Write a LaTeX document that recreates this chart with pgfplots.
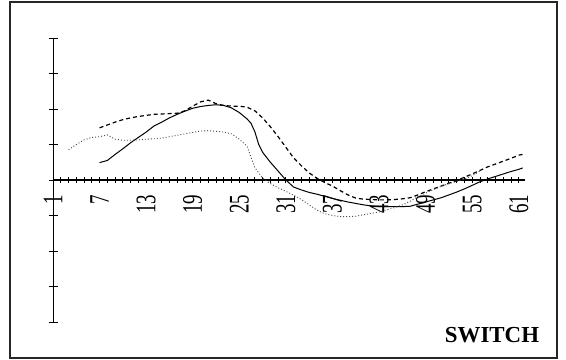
\documentclass[border=0pt]{standalone}
\usepackage{fontspec}
\setmainfont{Liberation Serif}
\usepackage{pgfplots}
\pgfplotsset{compat=1.18}
\begin{document}
\begin{tikzpicture}
\path (0,0) rectangle (566bp,360bp);
\draw[line width=1.6bp, black!85] (10bp,2bp) rectangle (557bp,358bp);
\begin{axis}[
 at={(53bp,38bp)}, anchor=south west,
 scale only axis, width=472bp, height=284bp,
 xmin=1, xmax=61.8, ymin=-4, ymax=4,
 axis x line=middle, axis y line=left,
 hide obscured x ticks=false,
 x axis line style={-, line width=1.4bp},
 y axis line style={-, line width=0.9bp},
 xtick={1,7,...,61}, minor xtick={1,2,...,61},
 major x tick style={draw=none},
 ytick={-4,-3,...,4}, yticklabels={},
 tick align=center, major tick length=9bp, minor tick length=6bp,
 every tick/.style={black, line width=0.9bp},
 xticklabel style={rotate=90, yscale=1.5, anchor=east, font=\fontsize{19}{19}\selectfont, xshift=-7bp},
 /pgf/number format/assume math mode=true,
 clip=false,
]
\addplot[black, line width=1bp] coordinates {
(7,0.49)(8,0.55)(9,0.72)(10,0.88)(11,1.05)(12,1.2)(13,1.35)(14,1.52)(15,1.63)(16,1.75)(17,1.85)(18,1.94)(19,2.02)(20,2.07)(21,2.1)(22,2.12)(23,2.1)(24,2.03)(25,1.9)(26,1.72)(26.5,1.6)(27,1.36)(27.5,1.0)(28,0.78)(29,0.5)(30,0.25)(31,0.0)(32,-0.2)(33,-0.28)(34,-0.35)(35,-0.4)(36,-0.46)(37,-0.52)(38,-0.57)(39,-0.62)(40,-0.66)(41,-0.7)(42,-0.73)(43,-0.75)(46,-0.75)(47,-0.74)(48,-0.68)(49,-0.62)(50,-0.56)(51,-0.5)(52,-0.42)(53,-0.34)(54,-0.25)(55,-0.15)(56,-0.05)(57,0.03)(58,0.1)(59,0.17)(60,0.24)(61,0.3)(61.5,0.34)
};
\addplot[black, line width=1.2bp, dash pattern=on 4bp off 3bp] coordinates {
(7,1.47)(8,1.55)(9,1.63)(10,1.7)(11,1.75)(12,1.79)(13,1.82)(14,1.85)(15,1.86)(16,1.87)(17,1.88)(18,1.95)(19,2.08)(20,2.2)(21,2.25)(22,2.15)(23,2.1)(24,2.08)(25,2.08)(26,2.05)(27,1.95)(28,1.75)(29,1.5)(30,1.22)(31,0.92)(32,0.62)(33,0.4)(34,0.2)(35,0.05)(36,-0.07)(37,-0.17)(38,-0.3)(39,-0.42)(40,-0.51)(41,-0.54)(42,-0.55)(43,-0.56)(44,-0.56)(45,-0.55)(46,-0.53)(47,-0.5)(48,-0.42)(49,-0.33)(50,-0.25)(51,-0.17)(52,-0.09)(53,-0.02)(54,0.08)(55,0.17)(56,0.27)(57,0.37)(58,0.45)(59,0.53)(60,0.61)(61,0.7)(61.5,0.72)
};
\addplot[black!70, line width=0.9bp, dash pattern=on 1bp off 2bp] coordinates {
(3,0.85)(4,1.0)(5,1.13)(6,1.2)(7,1.22)(8,1.27)(9,1.15)(10,1.12)(11,1.12)(12,1.13)(13,1.15)(14,1.16)(15,1.18)(16,1.22)(17,1.26)(18,1.3)(19,1.34)(20,1.38)(21,1.39)(22,1.37)(23,1.35)(24,1.3)(25,1.15)(26,0.95)(27,0.35)(28,0.05)(29,-0.1)(30,-0.22)(31,-0.32)(32,-0.43)(33,-0.55)(34,-0.7)(35,-0.85)(36,-0.95)(37,-1.0)(38,-1.03)(39,-1.03)(40,-1.02)(41,-0.98)(42,-0.94)(43,-0.9)(44,-0.84)(45,-0.78)(46,-0.7)(47,-0.6)(48,-0.47)(49,-0.37)(50,-0.27)(51,-0.18)(52,-0.1)(53,-0.04)(54,0.03)(55,0.12)(56,0.25)
};
\end{axis}
\node[font=\bfseries\fontsize{23}{23}\selectfont, anchor=base] at (492bp,18bp) {SWITCH};
\end{tikzpicture}
\end{document}
